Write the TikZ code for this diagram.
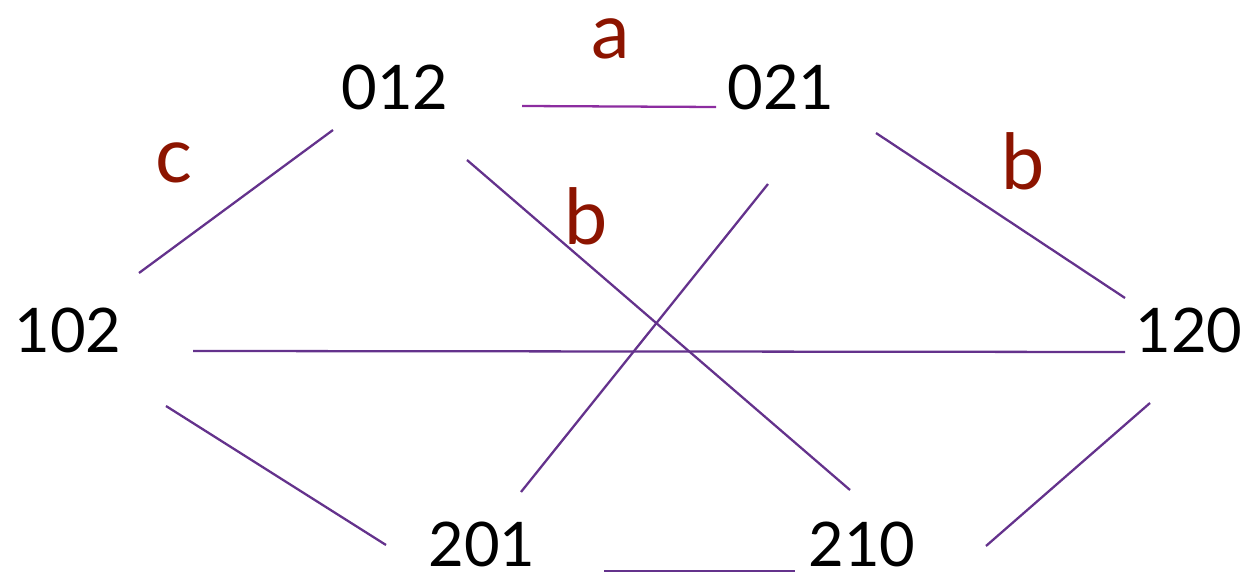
\documentclass[tikz,border=0pt]{standalone}
\usepackage{fontspec}
\setmainfont{Lato}
\usepackage{tikz}
\definecolor{edgepurple}{RGB}{100,50,140}
\definecolor{edgemagenta}{RGB}{140,45,160}
\definecolor{labred}{RGB}{140,20,0}

\begin{document}
\begin{tikzpicture}[
  x=0.02cm, y=-0.02cm,
  perm/.style={inner sep=0pt, font=\fontsize{35}{40}\selectfont},
  lab/.style={inner sep=0pt, text=labred, font=\fontsize{44}{48}\selectfont},
  edge/.style={edgepurple, line width=1.3pt}
]
  \useasboundingbox (0,0) rectangle (1252,577);

  % Permutation labels
  \node[perm] (p012) at (395,87)  {012};
  \node[perm] (p021) at (781,87)  {021};
  \node[perm] (p102) at (68,330)  {102};
  \node[perm] (p120) at (1189,330) {120};
  \node[perm] (p201) at (482,544) {201};
  \node[perm] (p210) at (862,544) {210};

  % Transposition labels
  \node[lab] (la)  at (611,39)  {a};
  \node[lab] (lc)  at (174,163) {c};
  \node[lab] (lb1) at (586,216) {b};
  \node[lab] (lb2) at (1023,161) {b};

  % Edge end points
  \coordinate (a1) at (522,106);  \coordinate (a2) at (716,107);
  \coordinate (c1) at (333,130);  \coordinate (c2) at (139,273);
  \coordinate (d1) at (467,160);  \coordinate (d2) at (850,490);
  \coordinate (e1) at (768,184);  \coordinate (e2) at (521,492);
  \coordinate (f1) at (876,133);  \coordinate (f2) at (1125,298);
  \coordinate (g1) at (193,351);  \coordinate (g2) at (1125,352);
  \coordinate (h1) at (166,406);  \coordinate (h2) at (386,545);
  \coordinate (k1) at (1150,403); \coordinate (k2) at (986,546);
  \coordinate (m1) at (604,571);  \coordinate (m2) at (795,571);

  \draw[edge, edgemagenta] (a1) -- (a2);
  \draw[edge] (c1) -- (c2);
  \draw[edge] (d1) -- (d2);
  \draw[edge] (e1) -- (e2);
  \draw[edge] (f1) -- (f2);
  \draw[edge] (g1) -- (g2);
  \draw[edge] (h1) -- (h2);
  \draw[edge] (k1) -- (k2);
  \draw[edge] (m1) -- (m2);

\end{tikzpicture}
\end{document}
